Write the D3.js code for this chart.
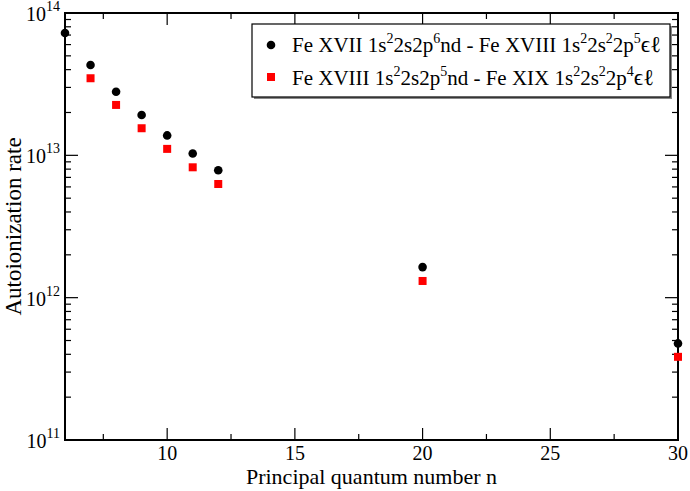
<!DOCTYPE html>
<html>
<head>
<meta charset="utf-8">
<script src="https://cdn.jsdelivr.net/npm/d3@7"></script>
<style>
  body { margin: 0; background: #fff; }
  text { font-family: "Liberation Serif", "DejaVu Serif", serif; fill: #000; }
</style>
</head>
<body>
<script>
// data
var nFe17 = [6, 7, 8, 9, 10, 11, 12, 20, 30];
var rateFe17 = [7.24e13, 4.31e13, 2.80e13, 1.92e13, 1.38e13, 1.03e13, 7.85e12, 1.64e12, 4.77e11];
var nFe18 = [7, 8, 9, 10, 11, 12, 20, 30];
var rateFe18 = [3.48e13, 2.26e13, 1.55e13, 1.11e13, 8.24e12, 6.29e12, 1.31e12, 3.84e11];
var xTicks = [10, 15, 20, 25, 30];
var yDecades = [11, 12, 13, 14];

var width = 690, height = 491;
var margin = {left: 65, right: 12, top: 13, bottom: 51};
var w = width - margin.left - margin.right;
var h = height - margin.top - margin.bottom;

var svg = d3.select("body").append("svg").attr("width", width).attr("height", height);
var g = svg.append("g").attr("transform", "translate(" + margin.left + "," + margin.top + ")");

var x = d3.scaleLinear().domain([6, 30]).range([0, w]);
var y = d3.scaleLog().domain([1e11, 1e14]).range([h, 0]);

// minor ticks
var xMinor = d3.range(7.5, 30, 5);
var yMinor = [];
yDecades.slice(0, 3).forEach(function(e){
  for (var k = 2; k <= 9; k++) yMinor.push(k * Math.pow(10, e));
});

// x ticks bottom & top
[[h, -1], [0, 1]].forEach(function(p){
  g.selectAll(null).data(xTicks.slice(0, 4)).enter().append("line")
    .attr("x1", function(d){ return x(d); }).attr("x2", function(d){ return x(d); })
    .attr("y1", p[0]).attr("y2", p[0] + p[1] * 12)
    .attr("stroke", "#000").attr("stroke-width", 1.2);
  g.selectAll(null).data(xMinor).enter().append("line")
    .attr("x1", function(d){ return x(d); }).attr("x2", function(d){ return x(d); })
    .attr("y1", p[0]).attr("y2", p[0] + p[1] * 6)
    .attr("stroke", "#000").attr("stroke-width", 1.2);
});
// y ticks left & right
[[0, 1], [w, -1]].forEach(function(p){
  g.selectAll(null).data(yDecades.slice(1, 3)).enter().append("line")
    .attr("y1", function(d){ return y(Math.pow(10, d)); }).attr("y2", function(d){ return y(Math.pow(10, d)); })
    .attr("x1", p[0]).attr("x2", p[0] + p[1] * 13)
    .attr("stroke", "#000").attr("stroke-width", 1.2);
  g.selectAll(null).data(yMinor).enter().append("line")
    .attr("y1", function(d){ return y(d); }).attr("y2", function(d){ return y(d); })
    .attr("x1", p[0]).attr("x2", p[0] + p[1] * 6)
    .attr("stroke", "#000").attr("stroke-width", 1.2);
});

// frame
g.append("rect").attr("width", w).attr("height", h)
  .attr("fill", "none").attr("stroke", "#000").attr("stroke-width", 2);

// x tick labels
g.selectAll(null).data(xTicks).enter().append("text")
  .attr("x", function(d){ return x(d); }).attr("y", h + 20)
  .attr("text-anchor", "middle").attr("font-size", 20).text(function(d){ return d; });

// y tick labels 10^e
var yl = g.selectAll(null).data(yDecades).enter().append("text")
  .attr("x", -5).attr("y", function(d){ return y(Math.pow(10, d)) + 8; })
  .attr("text-anchor", "end").attr("font-size", 20);
yl.append("tspan").text("10");
yl.append("tspan").attr("dy", -10).attr("font-size", 14).text(function(d){ return d; });

// axis titles
g.append("text").attr("x", w / 2).attr("y", h + 44).attr("text-anchor", "middle")
  .attr("font-size", 22).text("Principal quantum number n");
svg.append("text").attr("transform", "translate(21," + (margin.top + h / 2) + ") rotate(-90)")
  .attr("text-anchor", "middle").attr("font-size", 23).text("Autoionization rate");

// points
g.selectAll(null).data(d3.zip(nFe17, rateFe17)).enter().append("circle")
  .attr("cx", function(d){ return x(d[0]); }).attr("cy", function(d){ return y(d[1]); })
  .attr("r", 4.3).attr("fill", "#000");
g.selectAll(null).data(d3.zip(nFe18, rateFe18)).enter().append("rect")
  .attr("x", function(d){ return x(d[0]) - 4; }).attr("y", function(d){ return y(d[1]) - 4; })
  .attr("width", 8).attr("height", 8).attr("fill", "#f00");

// legend
var lg = svg.append("g").attr("transform", "translate(252,24)");
lg.append("rect").attr("x", 2).attr("y", 2).attr("width", 418).attr("height", 73).attr("fill", "#888");
lg.append("rect").attr("width", 418).attr("height", 73).attr("fill", "#fff").attr("stroke", "#000").attr("stroke-width", 1.2);
lg.append("circle").attr("cx", 19).attr("cy", 21).attr("r", 4.3).attr("fill", "#000");
lg.append("rect").attr("x", 15).attr("y", 49).attr("width", 8).attr("height", 8).attr("fill", "#f00");

var entries = [
  [["Fe XVII 1s", 0], ["2", 1], ["2s2p", 0], ["6", 1], ["nd - Fe XVIII 1s", 0], ["2", 1], ["2s", 0], ["2", 1], ["2p", 0], ["5", 1], ["\u03F5\u2113", 0]],
  [["Fe XVIII 1s", 0], ["2", 1], ["2s2p", 0], ["5", 1], ["nd - Fe XIX 1s", 0], ["2", 1], ["2s", 0], ["2", 1], ["2p", 0], ["4", 1], ["\u03F5\u2113", 0]]
];
entries.forEach(function(parts, i){
  var t = lg.append("text").attr("x", 40).attr("y", 28 + i * 33).attr("font-size", 21);
  var up = false;
  parts.forEach(function(p){
    var s = t.append("tspan").text(p[0]);
    if (p[1] && !up) { s.attr("dy", -9).attr("font-size", 14); up = true; }
    else if (p[1]) { s.attr("font-size", 14); }
    else if (up) { s.attr("dy", 9); up = false; }
    if (p[0] === "\u03F5\u2113") s.attr("font-size", 23);
  });
});
</script>
</body>
</html>
